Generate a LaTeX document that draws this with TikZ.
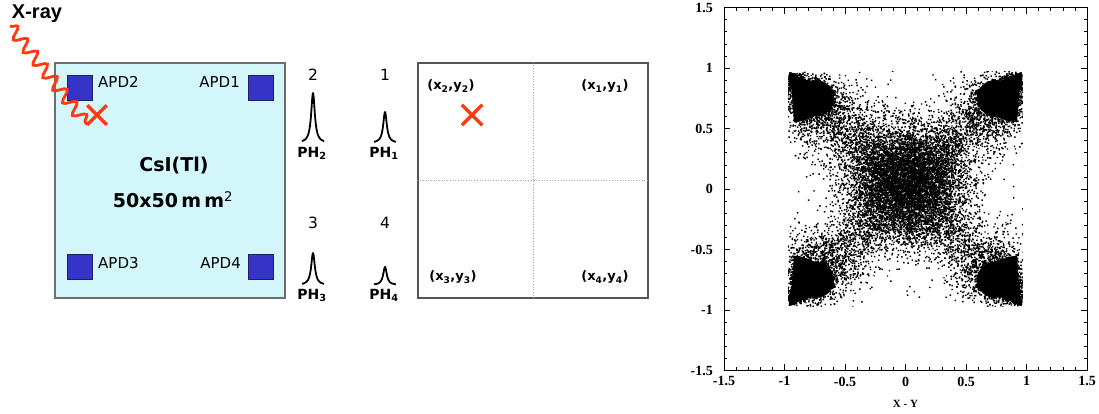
\documentclass[tikz,border=0pt]{standalone}
\usepackage{fontspec}
\setmainfont{DejaVu Sans}
\newfontfamily\arialfont{Liberation Sans}
\newfontfamily\timesfont{Liberation Serif}
\usetikzlibrary{decorations.pathmorphing, shapes.misc}
\definecolor{XRed}{HTML}{FF3A10}
\definecolor{CsICyan}{HTML}{D2F6FA}
\definecolor{APDBlue}{HTML}{3434C8}
\definecolor{APDEdge}{HTML}{20205A}
\definecolor{BoxGray}{HTML}{6E6E6E}
\definecolor{MapGray}{HTML}{555555}

% one filled path of #1 random dots; #2 runs before each dot, #3/#4 give x/y
\newcount\dotk
\newcommand\dotbatch[4]{%
  \dotk=0
  \loop
    #2\pgfmathsetmacro\dotx{#3}\pgfmathsetmacro\doty{#4}%
    \pgfpathrectangle{\pgfpointxy{\dotx}{\doty}}{\pgfpointxy{\ds}{\ds}}%
    \advance\dotk by 1
  \ifnum\dotk<#1\repeat
  \pgfusepath{fill}}

\begin{document}
\begin{tikzpicture}[x=1pt, y=-1pt,
  crystal/.style={draw=BoxGray, fill=CsICyan, line width=1.2pt, minimum width=230pt, minimum height=235pt, inner sep=0pt},
  apd/.style={draw=APDEdge, fill=APDBlue, line width=0.8pt, minimum size=25pt, inner sep=0pt},
  apdlab/.style={font=\fontsize{15}{17}\selectfont, inner sep=0pt},
  bigtext/.style={font=\bfseries\fontsize{19}{22}\selectfont, inner sep=0pt},
  chnum/.style={font=\fontsize{15.5}{17}\selectfont, inner sep=0pt},
  phlab/.style={font=\bfseries\fontsize{14}{16}\selectfont, inner sep=0pt, anchor=north},
  pulseline/.style={line width=1.8pt, line join=round},
  mapbox/.style={draw=MapGray, line width=1.2pt, minimum width=230pt, minimum height=235pt, inner sep=0pt},
  divider/.style={draw=gray!70, dotted, line width=0.7pt},
  poslab/.style={font=\bfseries\fontsize{13}{15}\selectfont, inner sep=0pt},
  hitmark/.style={cross out, draw=XRed, line width=3.5pt, minimum size=16pt, inner sep=0pt},
  xwave/.style={draw=XRed, line width=2.8pt, decorate, decoration={snake, amplitude=6pt, segment length=16pt}},
  ticklab/.style={font=\timesfont\bfseries\fontsize{14}{16}\selectfont, inner sep=0pt},
  tickline/.style={line width=0.6pt},
]
  \useasboundingbox (0,0) rectangle (1099,413);
  \def\ds{0.012} % dot size in plot units

  % Crystal with the four APDs
  \node[crystal] (csi) at (170,180.5) {};
  \node[apd] (apd2) at (79.5,87.5) {};
  \node[apd] (apd1) at (261,87.5) {};
  \node[apd] (apd3) at (79.5,267) {};
  \node[apd] (apd4) at (261,267) {};
  \node[apdlab, anchor=west] (apd2lab) at (98,82) {APD2};
  \node[apdlab, anchor=east] (apd1lab) at (240,82) {APD1};
  \node[apdlab, anchor=west] (apd3lab) at (98,263) {APD3};
  \node[apdlab, anchor=east] (apd4lab) at (241,263) {APD4};
  \node[bigtext] (csiname) at (174,166) {CsI(Tl)};
  \node[bigtext] (csisize) at (173,200) {50x50\,m\,m\textsuperscript{\mdseries 2}};

  % Incoming X-ray and hit point
  \node[font=\arialfont\bfseries\fontsize{20}{22}\selectfont, inner sep=0pt] (xray) at (37,14) {X-ray};
  \coordinate (wstart) at (10,26);
  \node[hitmark] (hit) at (97,115) {};
  \draw[xwave] (wstart) -- (hit.south west);

  % Pulse heights
  \foreach \px/\pb/\ph/\k/\ny in {313/143/50/2/75, 385/143/31/1/75, 313/285/32/3/223, 385/285/18/4/223}{
    \node[chnum] (num\k) at (\px,\ny) {\k};
    \draw[pulseline] plot[domain=-11:11, samples=81, smooth] ({\px+\x}, {\pb-\ph/(1+\x*\x/4.8)});
    \node[phlab] (ph\k) at (\px-1,\pb+4) {PH\textsubscript{\k}};
  }

  % Position map
  \node[mapbox] (map) at (533,180.5) {};
  \draw[divider] (map.north) -- (map.south);
  \draw[divider] (map.west) -- (map.east);
  \node[poslab] (pos2) at (451,86) {(x\textsubscript{2},y\textsubscript{2})};
  \node[poslab] (pos1) at (605,86) {(x\textsubscript{1},y\textsubscript{1})};
  \node[poslab] (pos3) at (453,277) {(x\textsubscript{3},y\textsubscript{3})};
  \node[poslab] (pos4) at (605,277) {(x\textsubscript{4},y\textsubscript{4})};
  \node[hitmark, minimum size=17pt] (maphit) at (472,115) {};

  % Measured map: X vs Y
  \begin{scope}[shift={(905.5,189)}, x=121pt, y=121pt]
    \pgfmathsetseed{2718}
    \begin{scope}
      \clip (-0.97,-0.97) rectangle (0.97,0.97);
      % central blob
      \foreach \b in {1,...,28}{
        \dotbatch{250}{}{0.4157*(rnd+rnd+rnd+rnd-2)}{0.06+0.4157*(rnd+rnd+rnd+rnd-2)}
      }
      % corner lobes and arms
      \foreach \sx/\sy in {1/1,-1/1,-1/-1,1/-1}{
        \begin{scope}[xscale=\sx, yscale=\sy]
          \fill (0.95,0.95) -- ++(200:0.4) arc[start angle=200, end angle=266, radius=0.4] -- cycle;
          \fill (0.74,0.75) circle[radius=0.15];
          \foreach \b in {1,...,7}{
            \dotbatch{300}{\pgfmathsetmacro\dotr{0.52*abs(rnd+rnd+rnd+rnd-2)}\pgfmathsetmacro\dota{233+36*(rnd+rnd+rnd+rnd-2)}}{0.95+\dotr*cos(\dota)}{0.95+\dotr*sin(\dota)}
          }
          \foreach \b in {1,...,5}{
            \dotbatch{240}{\pgfmathsetmacro\dott{0.08+0.75*rnd}}{\dott+0.225*(rnd+rnd+rnd+rnd-2)}{\dott+0.225*(rnd+rnd+rnd+rnd-2)}
          }
        \end{scope}
      }
      % sparse background
      \dotbatch{300}{}{1.8*rnd-0.9}{1.8*rnd-0.9}
    \end{scope}

    % Frame and ticks
    \draw[line width=0.9pt] (-1.5,-1.5) rectangle (1.5,1.5);
    \foreach \k in {-15,...,15}{
      \draw[tickline] ({\k/10},-1.5) -- ++(0,0.025);
      \draw[tickline] ({\k/10},1.5) -- ++(0,-0.025);
      \draw[tickline] (-1.5,{\k/10}) -- ++(0.025,0);
      \draw[tickline] (1.5,{\k/10}) -- ++(-0.025,0);
    }
    \foreach \v [count=\n] in {-1.5,-1,-0.5,0,0.5,1,1.5}{
      \draw[tickline] (\v,-1.5) -- ++(0,0.05);
      \draw[tickline] (\v,1.5) -- ++(0,-0.05);
      \draw[tickline] (-1.5,\v) -- ++(0.05,0);
      \draw[tickline] (1.5,\v) -- ++(-0.05,0);
      \node[ticklab, anchor=north, yshift=-6pt] (xt\n) at (\v,-1.5) {\v};
      \node[ticklab, anchor=east, xshift=-11pt] (yt\n) at (-1.5,\v) {\v};
    }
  \end{scope}
  \node[ticklab, font=\timesfont\bfseries\fontsize{11}{12}\selectfont] (xtitle) at (905.5,404) {X - Y};
\end{tikzpicture}
\end{document}
